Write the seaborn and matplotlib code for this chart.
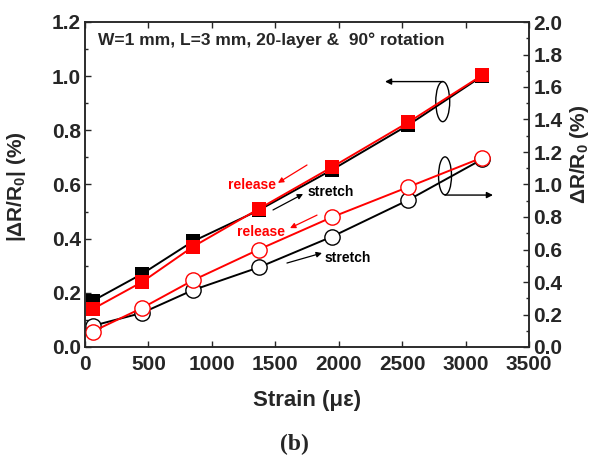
import matplotlib
matplotlib.use("Agg")
import matplotlib.pyplot as plt
import seaborn as sns
from matplotlib.patches import Ellipse
from matplotlib.ticker import MultipleLocator

# data
strain = [60, 450, 850, 1370, 1950, 2550, 3130]
stretch_abs = [0.17, 0.27, 0.39, 0.505, 0.655, 0.82, 1.0]      # black squares, left axis
release_abs = [0.14, 0.24, 0.37, 0.51, 0.665, 0.83, 1.003]     # red squares, left axis
stretch_rel = [0.13, 0.21, 0.35, 0.49, 0.68, 0.905, 1.155]     # black circles, right axis
release_rel = [0.095, 0.24, 0.41, 0.60, 0.80, 0.985, 1.165]    # red circles, right axis

sns.set_theme(style="ticks")
plt.rcParams['font.family'] = ['Liberation Sans', 'DejaVu Sans']
plt.rcParams['font.weight'] = 'bold'
plt.rcParams['mathtext.fontset'] = 'custom'
plt.rcParams['mathtext.default'] = 'bf'
plt.rcParams['mathtext.bf'] = 'Liberation Sans:bold'
plt.rcParams['mathtext.rm'] = 'Liberation Sans:bold'

fig = plt.figure(figsize=(6.07, 4.59), dpi=100)
ax = fig.add_axes([85/607, 1-347/459, 444/607, 325/459])
ax2 = ax.twinx()

lw = 1.4
sns.lineplot(x=strain, y=stretch_abs, ax=ax, color='black', marker='s', markersize=9.5,
             markeredgewidth=0, linewidth=lw)
sns.lineplot(x=strain, y=release_abs, ax=ax, color='red', marker='s', markersize=9.5,
             markeredgewidth=0, linewidth=lw)
sns.lineplot(x=strain, y=stretch_rel, ax=ax2, color='black', marker='o', markersize=11,
             markerfacecolor='white', markeredgecolor='black', markeredgewidth=1.0, linewidth=lw)
sns.lineplot(x=strain, y=release_rel, ax=ax2, color='red', marker='o', markersize=11,
             markerfacecolor='white', markeredgecolor='red', markeredgewidth=1.0, linewidth=lw)

ax.set_xlim(0, 3500)
ax.set_ylim(0, 1.2)
ax2.set_ylim(0, 2.0)
ax.xaxis.set_major_locator(MultipleLocator(500))
ax.yaxis.set_major_locator(MultipleLocator(0.2))
ax.yaxis.set_minor_locator(MultipleLocator(0.1))
ax2.yaxis.set_major_locator(MultipleLocator(0.2))
ax2.yaxis.set_minor_locator(MultipleLocator(0.1))
ax.yaxis.set_major_formatter(matplotlib.ticker.FormatStrFormatter('%.1f'))
ax2.yaxis.set_major_formatter(matplotlib.ticker.FormatStrFormatter('%.1f'))

for a in (ax, ax2):
    for s in a.spines.values():
        s.set_linewidth(1.1)
        s.set_visible(True)
ax.tick_params(axis='both', which='major', direction='in', length=4, width=1.0,
               labelsize=15, top=True, pad=3)
ax.tick_params(axis='x', which='major', pad=6)
ax.tick_params(axis='y', which='minor', direction='in', length=2.5, width=1.0)
ax2.tick_params(axis='y', which='major', direction='in', length=4, width=1.0, labelsize=15, pad=3)
ax2.tick_params(axis='y', which='minor', direction='in', length=2.5, width=1.0)
for lab in ax.get_xticklabels() + ax.get_yticklabels() + ax2.get_yticklabels():
    lab.set_fontweight('bold')

ax.set_xlabel('Strain (με)', fontsize=16, fontweight='bold', labelpad=11)
ax.set_ylabel(r'|ΔR/R$_{0}$| (%)', fontsize=15, fontweight='bold')
ax2.set_ylabel(r'ΔR/R$_{0}$ (%)', fontsize=15, fontweight='bold')
ax.yaxis.set_label_coords(-0.128, 0.495)
ax2.yaxis.set_label_coords(1.088, 0.594)

ax.text(0.029, 0.945, 'W=1 mm, L=3 mm, 20-layer &  90° rotation', transform=ax.transAxes,
        fontsize=12.5, fontweight='bold', va='center', ha='left')

# group ellipses and arrows
ax.add_patch(Ellipse((2820, 0.906), 110, 0.148, fill=False, edgecolor='black', linewidth=1.0))
ax.annotate('', xy=(2365, 0.98), xytext=(2822, 0.98),
            arrowprops=dict(arrowstyle='-|>', color='black', lw=1.0, mutation_scale=9,
                            shrinkA=0, shrinkB=0))
ax.add_patch(Ellipse((2838, 0.632), 102, 0.14, fill=False, edgecolor='black', linewidth=1.0))
ax.annotate('', xy=(3216, 0.561), xytext=(2838, 0.561),
            arrowprops=dict(arrowstyle='-|>', color='black', lw=1.0, mutation_scale=9,
                            shrinkA=0, shrinkB=0))

# release / stretch labels
arrow_kw = dict(arrowstyle='-|>', lw=0.9, mutation_scale=8, shrinkA=0, shrinkB=0)
ax.text(1316, 0.598, 'release', color='red', fontsize=10, fontweight='bold', ha='center', va='center')
ax.annotate('', xy=(1521, 0.606), xytext=(1750, 0.672), arrowprops=dict(color='red', **arrow_kw))
ax.text(1939, 0.572, 'stretch', color='black', fontsize=10, fontweight='bold', ha='center', va='center')
ax.annotate('', xy=(1719, 0.565), xytext=(1482, 0.506), arrowprops=dict(color='black', **arrow_kw))
ax.text(1387, 0.425, 'release', color='red', fontsize=10, fontweight='bold', ha='center', va='center')
ax.annotate('', xy=(1616, 0.439), xytext=(1829, 0.487), arrowprops=dict(color='red', **arrow_kw))
ax.text(2073, 0.329, 'stretch', color='black', fontsize=10, fontweight='bold', ha='center', va='center')
ax.annotate('', xy=(1868, 0.347), xytext=(1592, 0.310), arrowprops=dict(color='black', **arrow_kw))

fig.text(294/607, 1-444/459, '(b)', fontsize=17, fontweight='bold', ha='center', va='center',
         family=['Liberation Serif', 'DejaVu Serif'])

fig.savefig('out.png', dpi=100, facecolor='white')
